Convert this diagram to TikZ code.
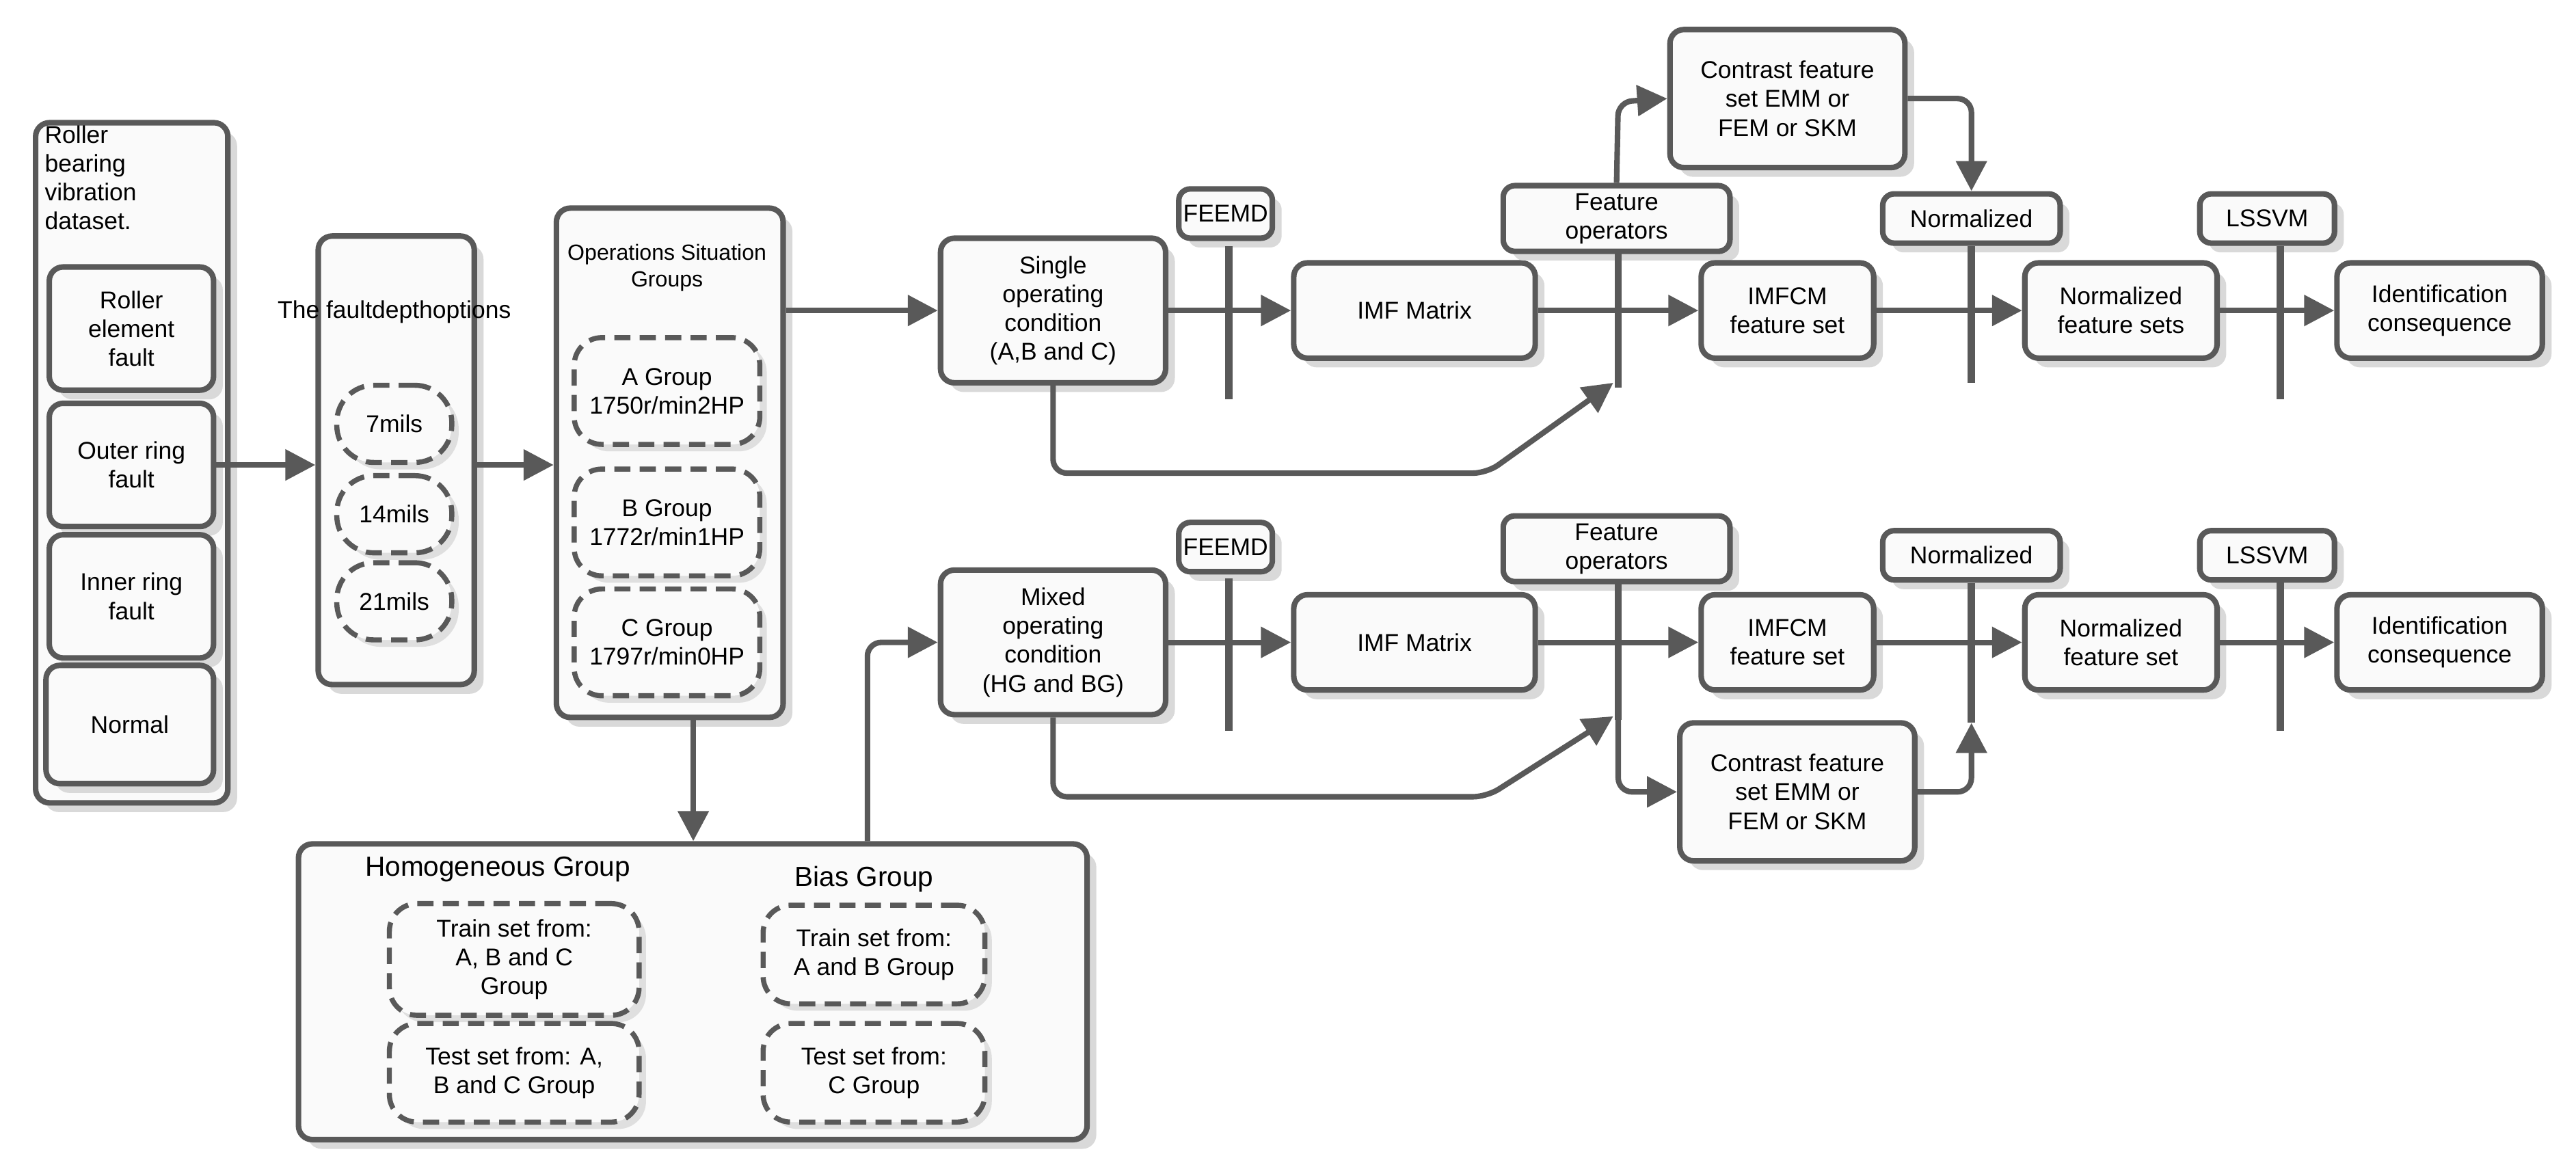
\documentclass[tikz,border=0pt]{standalone}
\usepackage{fontspec}
\setmainfont{Liberation Sans}
\usetikzlibrary{arrows.meta,shadows}
\definecolor{ln}{HTML}{595959}
\tikzset{
  sz/.style 2 args={minimum width=#1*0.025cm, minimum height=#2*0.025cm, inner sep=1pt},
  box/.style={draw=ln, line width=2.4pt, rounded corners=6pt, fill=gray!4, align=center,
     drop shadow={shadow xshift=4pt, shadow yshift=-4pt, fill=gray!30, opacity=1}},
  lbl/.style={box, rounded corners=5pt},
  dbox/.style={draw=ln, line width=2.2pt, dash pattern=on 7pt off 4pt, rounded corners=12pt, fill=gray!4, align=center,
     drop shadow={shadow xshift=3pt, shadow yshift=-3pt, fill=gray!25, opacity=1}},
  bar/.style={draw=ln, line width=3.2pt},
  ln/.style={draw=ln, line width=2.4pt},
  arr/.style={ln, -{Triangle[length=13pt,width=13pt]}}}
\begin{document}
\begin{tikzpicture}[x=0.025cm,y=-0.025cm, font=\fontsize{10.5}{12.5}\selectfont]
\useasboundingbox (0,0) rectangle (1568,710);

% left column
\node[box, sz={117}{414}, anchor=north west] (ds) at (20,73) {};
\node[anchor=north west, align=left, inner sep=0pt] (dst) at (27,76) {Roller\\bearing\\vibration\\dataset.};
\node[box, sz={100}{75}] (ref) at (80,200) {Roller\\element\\fault};
\node[box, sz={100}{75}] (orf) at (80,283) {Outer ring\\fault};
\node[box, sz={100}{75}] (irf) at (80,363) {Inner ring\\fault};
\node[box, sz={102}{72}] (nor) at (79,441) {Normal};

% fault depth
\node[box, sz={95}{273}, anchor=north west] (fd) at (192,142) {};
\node (fdt) at (240,190) {The fault\\depth\\options};
\node[dbox, sz={70}{47}, rounded corners=16pt] (m7) at (240,258) {7mils};
\node[dbox, sz={70}{47}, rounded corners=16pt] (m14) at (240,313) {14mils};
\node[dbox, sz={70}{47}, rounded corners=16pt] (m21) at (240,366) {21mils};

% operations
\node[box, sz={138}{310}, anchor=north west] (op) at (337,125) {};
\node[font=\fontsize{9.5}{11.5}\selectfont, align=center] (opt) at (406,163) {Operations Situation\\Groups};
\node[dbox, sz={113}{65}] (ga) at (406,238) {A Group\\1750r/min2HP};
\node[dbox, sz={113}{65}] (gb) at (406,318) {B Group\\1772r/min1HP};
\node[dbox, sz={113}{65}] (gc) at (406,391) {C Group\\1797r/min0HP};

\draw[arr] (orf.east) -- (fd.west |- orf.east);
\draw[arr] (fd.east |- orf.east) -- (op.west |- orf.east);

% bottom group box
\node[box, sz={480}{180}, anchor=north west] (grp) at (180,512) {};
\node[font=\fontsize{12}{14}\selectfont] (hg) at (303,529) {Homogeneous Group};
\node[font=\fontsize{12}{14}\selectfont] (bg) at (526,535) {Bias Group};
\node[dbox, sz={152}{68}] (tr1) at (313,584) {Train set from:\\A, B and C\\Group};
\node[dbox, sz={152}{60}] (te1) at (313,653) {Test set from: A,\\B and C Group};
\node[dbox, sz={135}{60}] (tr2) at (532,581) {Train set from:\\A and B Group};
\node[dbox, sz={135}{60}] (te2) at (532,653) {Test set from:\\C Group};
\draw[arr] (op.south -| 422,0) -- (grp.north -| 422,0);

% ---------- top row ----------
\node[box, sz={137}{88}] (sg) at (641,189) {Single\\operating\\condition\\(A,B and C)};
\node[lbl, sz={57}{30}] (fe1) at (746,130) {FEEMD};
\node[box, sz={147}{58}] (imf1) at (861,189) {IMF Matrix};
\node[lbl, sz={138}{40}] (fo1) at (984,133) {Feature\\operators};
\node[box, sz={143}{84}] (cf1) at (1088,60) {Contrast feature\\set EMM or\\FEM or SKM};
\node[box, sz={105}{58}] (im1) at (1088,189) {IMFCM\\feature set};
\node[lbl, sz={108}{30}] (no1) at (1200,133) {Normalized};
\node[box, sz={117}{58}] (nf1) at (1291,189) {Normalized\\feature sets};
\node[lbl, sz={82}{30}] (ls1) at (1380,133) {LSSVM};
\node[box, sz={125}{58}] (id1) at (1485,189) {Identification\\consequence};

\coordinate (b1t) at (748,150); \coordinate (b1b) at (748,243);
\coordinate (b2t) at (985,153); \coordinate (b2b) at (985,236);
\coordinate (b3t) at (1200,150); \coordinate (b3b) at (1200,233);
\coordinate (b4t) at (1388,150); \coordinate (b4b) at (1388,243);
\draw[bar] (b1t) -- (b1b); \draw[bar] (b2t) -- (b2b);
\draw[bar] (b3t) -- (b3b); \draw[bar] (b4t) -- (b4b);

\draw[arr] (op.east |- sg.west) -- (sg.west);
\draw[arr] (sg.east) -- (imf1.west);
\draw[arr] (imf1.east) -- (im1.west);
\draw[arr] (im1.east) -- (nf1.west);
\draw[arr] (nf1.east) -- (id1.west);
\draw[arr, rounded corners=6pt] (fo1.north) -- (985,62) -- (cf1.west);
\draw[arr, rounded corners=6pt] (cf1.east) -| (no1.north);
\coordinate (k1) at (905,288);
\draw[arr, rounded corners=6pt] (sg.south) |- (k1) -- (982,233);

% ---------- bottom row ----------
\node[box, sz={137}{88}] (mx) at (641,391) {Mixed\\operating\\condition\\(HG and BG)};
\node[lbl, sz={57}{30}] (fe2) at (746,333) {FEEMD};
\node[box, sz={147}{58}] (imf2) at (861,391) {IMF Matrix};
\node[lbl, sz={138}{40}] (fo2) at (984,334) {Feature\\operators};
\node[box, sz={143}{84}] (cf2) at (1094,482) {Contrast feature\\set EMM or\\FEM or SKM};
\node[box, sz={105}{58}] (im2) at (1088,391) {IMFCM\\feature set};
\node[lbl, sz={108}{30}] (no2) at (1200,338) {Normalized};
\node[box, sz={117}{58}] (nf2) at (1291,391) {Normalized\\feature set};
\node[lbl, sz={82}{30}] (ls2) at (1380,338) {LSSVM};
\node[box, sz={125}{58}] (id2) at (1485,391) {Identification\\consequence};

\coordinate (c1t) at (748,352); \coordinate (c1b) at (748,445);
\coordinate (c2t) at (985,355); \coordinate (c2b) at (985,438);
\coordinate (c3t) at (1200,355); \coordinate (c3b) at (1200,440);
\coordinate (c4t) at (1388,352); \coordinate (c4b) at (1388,445);
\draw[bar] (c1t) -- (c1b); \draw[bar] (c2t) -- (c2b);
\draw[bar] (c3t) -- (c3b); \draw[bar] (c4t) -- (c4b);

\draw[arr, rounded corners=6pt] (grp.north -| 528,0) |- (mx.west);
\draw[arr] (mx.east) -- (imf2.west);
\draw[arr] (imf2.east) -- (im2.west);
\draw[arr] (im2.east) -- (nf2.west);
\draw[arr] (nf2.east) -- (id2.west);
\draw[arr, rounded corners=6pt] (c2b) |- (cf2.west);
\draw[arr, rounded corners=6pt] (cf2.east) -| (c3b);
\coordinate (k2) at (905,485);
\draw[arr, rounded corners=6pt] (mx.south) |- (k2) -- (982,436);
\end{tikzpicture}
\end{document}
